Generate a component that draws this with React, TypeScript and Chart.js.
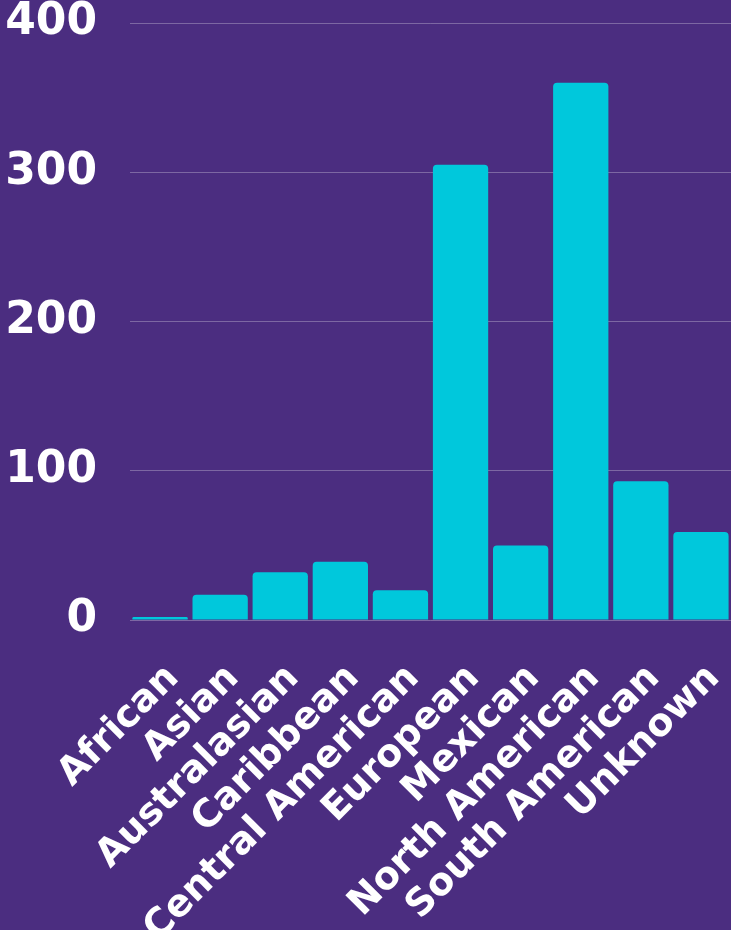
import React, { useEffect, useRef } from "react";
import { Chart, registerables } from "chart.js";

Chart.register(...registerables);

const categories = [
  "African",
  "Asian",
  "Australasian",
  "Caribbean",
  "Central American",
  "European",
  "Mexican",
  "North American",
  "South American",
  "Unknown",
];
const counts = [2, 17, 32, 39, 20, 305, 50, 360, 93, 59];
const yTicks = [0, 100, 200, 300, 400];

const BG = "#4b2d80";
const BAR = "#00c8dc";
const FONT = "'DejaVu Sans', sans-serif";

export default function App() {
  const ref = useRef<HTMLCanvasElement | null>(null);

  useEffect(() => {
    document.body.style.margin = "0";
    const ctx = ref.current!;
    const chart = new Chart(ctx, {
      type: "bar",
      data: {
        labels: categories,
        datasets: [
          {
            data: counts,
            backgroundColor: BAR,
            borderRadius: 4,
            borderSkipped: "bottom",
            barPercentage: 1,
            categoryPercentage: 0.92,
          },
        ],
      },
      options: {
        animation: false,
        responsive: true,
        maintainAspectRatio: false,
        layout: { padding: { left: 0, right: 0, top: 23, bottom: 0 } },
        plugins: { legend: { display: false }, tooltip: { enabled: false } },
        scales: {
          x: {
            grid: { display: false, drawTicks: false },
            border: { display: false },
            afterFit: (axis: any) => {
              axis.height = 310;
              axis.paddingLeft = 0;
              axis.paddingRight = 0;
            },
            ticks: {
              color: "#ffffff",
              font: { family: FONT, size: 38, weight: "bold" },
              minRotation: 45,
              maxRotation: 45,
              padding: 36,
              labelOffset: 13,
              autoSkip: false,
            },
          },
          y: {
            min: 0,
            max: 400,
            afterBuildTicks: (axis: any) => {
              axis.ticks = yTicks.map((v) => ({ value: v }));
            },
            afterFit: (axis: any) => {
              axis.width = 130;
              axis.paddingTop = 0;
              axis.paddingBottom = 0;
            },
            grid: {
              color: "rgba(255,255,255,0.28)",
              lineWidth: 1,
              drawTicks: false,
            },
            border: { display: false },
            ticks: {
              color: "#ffffff",
              font: { family: FONT, size: 44, weight: "bold" },
              padding: 33,
            },
          },
        },
      },
    });
    return () => chart.destroy();
  }, []);

  return (
    <div
      style={{
        position: "fixed",
        left: 0,
        top: 0,
        width: 731,
        height: 930,
        background: BG,
      }}
    >
      <canvas ref={ref} />
    </div>
  );
}
